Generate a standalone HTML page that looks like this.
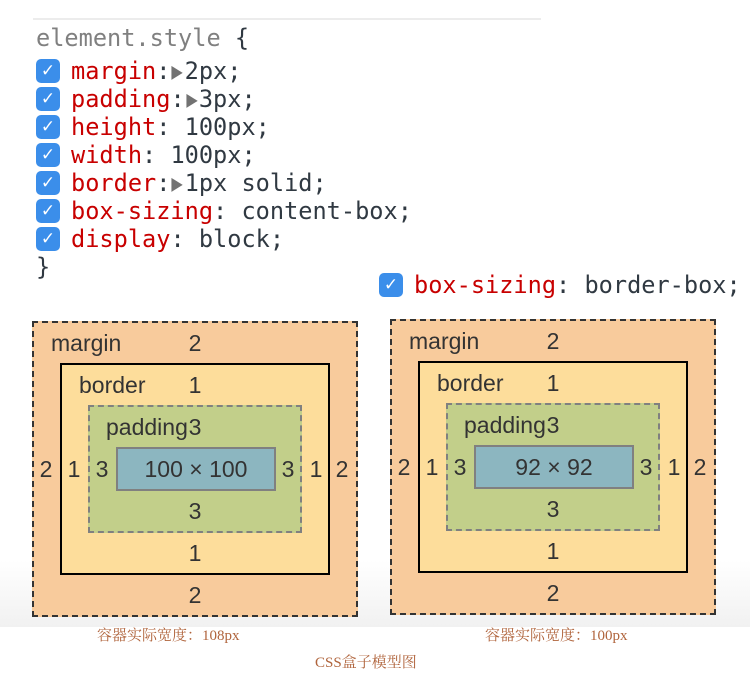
<!DOCTYPE html>
<html><head><meta charset="utf-8"><style>
body{margin:0;width:750px;height:694px;background:#fff;position:relative;overflow:hidden;font-family:"Liberation Sans",sans-serif}
.a{position:absolute}
.grad{left:0;top:560px;width:750px;height:67px;background:linear-gradient(#fff,#f1f1f1)}
.code{position:absolute;font-family:"DejaVu Sans Mono","Liberation Mono",monospace;font-size:23.6px;color:#303942;white-space:pre;line-height:28px;height:28px}
.k{color:#c80000}
.tri{color:#727272;font-size:23.6px;display:inline-block;width:14.2px;transform:scaleX(.8)}
.cb{position:absolute;width:24px;height:24px;border-radius:5px;background:#3b8eea;color:#fff;font-size:17px;line-height:24px;text-align:center;font-family:"DejaVu Sans",sans-serif}
.box{position:absolute;box-sizing:border-box}
.m{background:#f8cb9c;border:2px dashed #333}
.b{background:#fddd9b;border:2px solid #000}
.p{background:#c2cf8a;border:2px dashed #808080}
.c{background:#8cb6c0;border:2px solid #808080}
.t{position:absolute;font-size:23px;color:#333;line-height:24px;white-space:nowrap}
.n{position:absolute;font-size:23px;color:#333;line-height:24px;width:200px;margin-left:-100px;text-align:center;white-space:nowrap}
.cap{position:absolute;font-family:"Liberation Serif","Noto Serif CJK SC",serif;font-size:15px;color:#b0643c;white-space:nowrap}
</style></head><body>
<div class="a grad"></div>
<div class="a" style="left:33px;top:18px;width:508px;height:2px;background:#ececec"></div>
<div class="code" style="left:36px;top:24px;color:#808080">element.style <span style="color:#303942">{</span></div>
<div class="code" style="left:71px;top:57px"><span class="k">margin</span>:<span class="tri">▶</span>2px;</div>
<div class="code" style="left:71px;top:85px"><span class="k">padding</span>:<span class="tri">▶</span>3px;</div>
<div class="code" style="left:71px;top:113px"><span class="k">height</span>: 100px;</div>
<div class="code" style="left:71px;top:141px"><span class="k">width</span>: 100px;</div>
<div class="code" style="left:71px;top:169px"><span class="k">border</span>:<span class="tri">▶</span>1px solid;</div>
<div class="code" style="left:71px;top:197px"><span class="k">box-sizing</span>: content-box;</div>
<div class="code" style="left:71px;top:225px"><span class="k">display</span>: block;</div>
<div class="code" style="left:36px;top:253px">}</div>
<div class="cb" style="left:36px;top:59px">✓</div>
<div class="cb" style="left:36px;top:87px">✓</div>
<div class="cb" style="left:36px;top:115px">✓</div>
<div class="cb" style="left:36px;top:143px">✓</div>
<div class="cb" style="left:36px;top:171px">✓</div>
<div class="cb" style="left:36px;top:199px">✓</div>
<div class="cb" style="left:36px;top:227px">✓</div>
<div class="cb" style="left:379px;top:273px">✓</div>
<div class="code" style="left:414px;top:271px"><span class="k">box-sizing</span>: border-box;</div>

<!-- left -->
<div class="box m" style="left:32px;top:321px;width:326px;height:296px"></div>
<div class="box b" style="left:60px;top:363px;width:270px;height:212px"></div>
<div class="box p" style="left:88px;top:405px;width:214px;height:128px"></div>
<div class="box c" style="left:116px;top:447px;width:160px;height:44px"></div>
<div class="t" style="left:51px;top:331px">margin</div>
<div class="n" style="left:195px;top:331px">2</div>
<div class="t" style="left:79px;top:373px">border</div>
<div class="n" style="left:195px;top:373px">1</div>
<div class="t" style="left:106px;top:415px">padding</div>
<div class="n" style="left:195px;top:415px">3</div>
<div class="n" style="left:196px;top:457px">100 × 100</div>
<div class="n" style="left:46px;top:457px">2</div>
<div class="n" style="left:74px;top:457px">1</div>
<div class="n" style="left:102px;top:457px">3</div>
<div class="n" style="left:288px;top:457px">3</div>
<div class="n" style="left:316px;top:457px">1</div>
<div class="n" style="left:342px;top:457px">2</div>
<div class="n" style="left:195px;top:499px">3</div>
<div class="n" style="left:195px;top:541px">1</div>
<div class="n" style="left:195px;top:583px">2</div>

<!-- right -->
<div class="box m" style="left:390px;top:319px;width:326px;height:296px"></div>
<div class="box b" style="left:418px;top:361px;width:270px;height:212px"></div>
<div class="box p" style="left:446px;top:403px;width:214px;height:128px"></div>
<div class="box c" style="left:474px;top:445px;width:160px;height:44px"></div>
<div class="t" style="left:409px;top:329px">margin</div>
<div class="n" style="left:553px;top:329px">2</div>
<div class="t" style="left:437px;top:371px">border</div>
<div class="n" style="left:553px;top:371px">1</div>
<div class="t" style="left:464px;top:413px">padding</div>
<div class="n" style="left:553px;top:413px">3</div>
<div class="n" style="left:554px;top:455px">92 × 92</div>
<div class="n" style="left:404px;top:455px">2</div>
<div class="n" style="left:432px;top:455px">1</div>
<div class="n" style="left:460px;top:455px">3</div>
<div class="n" style="left:646px;top:455px">3</div>
<div class="n" style="left:674px;top:455px">1</div>
<div class="n" style="left:700px;top:455px">2</div>
<div class="n" style="left:553px;top:497px">3</div>
<div class="n" style="left:553px;top:539px">1</div>
<div class="n" style="left:553px;top:581px">2</div>

<div class="cap" style="left:97px;top:624px">容器实际宽度：108px</div>
<div class="cap" style="left:485px;top:624px">容器实际宽度：100px</div>
<div class="cap" style="left:315px;top:651px">CSS盒子模型图</div>
</body></html>
